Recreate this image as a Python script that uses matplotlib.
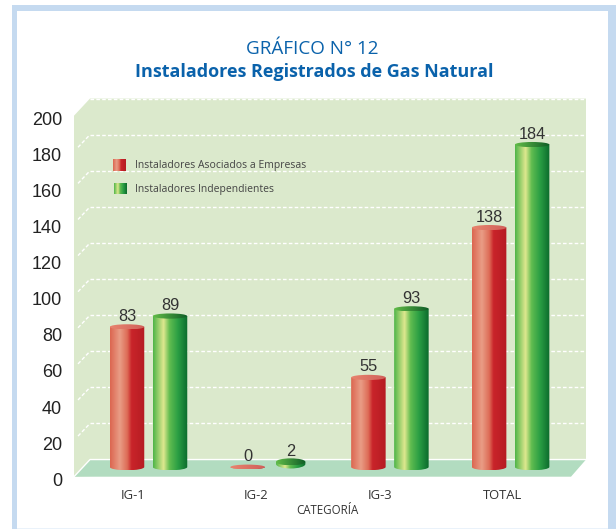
import numpy as np
import matplotlib
matplotlib.use("Agg")
import matplotlib.pyplot as plt
from matplotlib.colors import LinearSegmentedColormap
from matplotlib.patches import Rectangle, Polygon, PathPatch, Ellipse
from matplotlib.path import Path
from matplotlib.transforms import ScaledTranslation

categories = ["IG-1", "IG-2", "IG-3", "TOTAL"]
asociados = [83, 0, 55, 138]
independientes = [89, 2, 93, 184]
y_ticks = [0, 20, 40, 60, 80, 100, 120, 140, 160, 180, 200]

W, H = 616, 529
plt.rcParams["font.family"] = ["Open Sans", "DejaVu Sans"]

# layout in pixels of the picture
AX_L, AX_R, AX_T, AX_B = 74, 571, 115.7, 476.7
GROUP0, GROUP_STEP = 148.5, 120.7
BAR_W, BAR_OFF = 34.5, 21.5
DEPTH_X = 16

red = LinearSegmentedColormap.from_list("r", [(0, "#dc6650"), (.28, "#e99d86"), (.5, "#dd6a55"),
                                              (.62, "#c9242a"), (1, "#b51c22")])
green = LinearSegmentedColormap.from_list("g", [(0, "#4fb548"), (.3, "#dfe88f"), (.47, "#62bd50"),
                                                (.72, "#2a9e44"), (1, "#0b6a2c")])
red_top = LinearSegmentedColormap.from_list("rt", ["#e8846e", "#d0605a"])
green_top = LinearSegmentedColormap.from_list("gt", ["#62bc48", "#0e5c26"])
ramp = np.linspace(0, 1, 128).reshape(1, -1)

fig = plt.figure(figsize=(W / 100, H / 100), dpi=100, facecolor="white")

def fig_rect(x0, y0, x1, y1, color):
    fig.patches.append(Rectangle((x0 / W, 1 - y1 / H), (x1 - x0) / W, (y1 - y0) / H, color=color,
                                 lw=0, transform=fig.transFigure, zorder=-1))

fig_rect(12, 5, W, H, "#c5daf0")
fig_rect(17, 11, 608, 528, "white")
fig_rect(17, 528, 608, H, "#eaf2fa")

ax = fig.add_axes([AX_L / W, 1 - AX_B / H, (AX_R - AX_L) / W, (AX_B - AX_T) / H], facecolor="none")
ax.set_xlim((AX_L - GROUP0) / GROUP_STEP, (AX_R - GROUP0) / GROUP_STEP)
ax.set_ylim(0, 200)
PX_V = (AX_B - AX_T) / 200

def dx(px):
    return px / GROUP_STEP

def dv(px):
    return px / PX_V

def to_x(px):
    return (px - GROUP0) / GROUP_STEP

def to_v(py):
    return (AX_B - py) / PX_V

# wall and floor
back_off = 9.5
x_left, x_right = ax.get_xlim()
x_back0 = x_left + dx(DEPTH_X)
x_back1 = x_right + dx(DEPTH_X - 1)
ax.add_patch(Polygon([(x_left, 200), (x_back0, 200 + back_off), (x_back1, 200 + back_off),
                      (x_back1, back_off), (x_left, 0)],
                     color="#dbe9cc", lw=0, clip_on=False, zorder=1))
ax.add_patch(Polygon([(x_left, 0), (x_back0, back_off), (x_back1, back_off), (x_right, 0)],
                     color="#b2dcc0", lw=0, clip_on=False, zorder=1.2))
ax.plot([x_left, x_back0, x_back1], [0, back_off, back_off], color="white",
        lw=1, clip_on=False, zorder=1.3)

for t in y_ticks[1:]:
    ax.plot([x_back0, x_back1], [t + back_off, t + back_off], color="white", lw=1,
            ls=(0, (2.6, 1.6)), clip_on=False, zorder=1.4)
    if t < 200:
        ax.plot([x_left + dx(4), x_back0], [t + 2.5, t + back_off], color="white", lw=1,
                ls=(0, (2.6, 1.6)), clip_on=False, zorder=1.4)

def gradient(x0, x1, v0, v1, cmap, clip, z):
    im = ax.imshow(ramp, extent=(x0, x1, v0, v1), cmap=cmap, aspect="auto", zorder=z, interpolation="bilinear")
    im.set_clip_path(clip)

def cylinder(center, value, cmap, cmap_top, z):
    base = to_v(467)
    top = value
    w = BAR_W
    rb, rt = dv(3.3), dv(2.6)
    # the very small values are only a flat disc on the floor
    if value < base:
        if value > 0:
            base = base + dv(3)
            top = base + value * 0.6
            w = BAR_W * 0.85
            rb, rt = dv(4.5), dv(3.5)
        else:
            top = base
            rb = rt = dv(2.4)
    x0, x1 = center - dx(w / 2), center + dx(w / 2)
    k = 0.5523
    xm = (x0 + x1) / 2
    hw = (x1 - x0) / 2
    verts = [(x0, top), (x0, base),
             (x0, base - rb * k), (xm - hw * k, base - rb), (xm, base - rb),
             (xm + hw * k, base - rb), (x1, base - rb * k), (x1, base),
             (x1, top), (x0, top)]
    codes = [Path.MOVETO, Path.LINETO, Path.CURVE4, Path.CURVE4, Path.CURVE4,
             Path.CURVE4, Path.CURVE4, Path.CURVE4, Path.LINETO, Path.CLOSEPOLY]
    body = PathPatch(Path(verts, codes), fc="none", ec="none", transform=ax.transData)
    ax.add_patch(body)
    gradient(x0, x1, base - rb, top + rt, cmap, body, z)
    cap = Ellipse((xm, top), x1 - x0, 2 * rt, fc="none", ec="none", transform=ax.transData)
    ax.add_patch(cap)
    gradient(x0, x1, top - rt, top + rt, cmap_top, cap, z + 0.1)
    return top

for i, (a, b) in enumerate(zip(asociados, independientes)):
    x_a = i - dx(BAR_OFF)
    x_b = i + dx(BAR_OFF)
    top_a = cylinder(x_a, a, red, red_top, 3)
    top_b = cylinder(x_b, b, green, green_top, 3)
    ax.text(x_a, top_a + dv(3), str(a), ha="center", va="bottom", family="Liberation Sans", fontsize=11.8,
            color="#333333", zorder=5)
    ax.text(x_b, top_b + dv(3), str(b), ha="center", va="bottom", family="Liberation Sans", fontsize=11.8,
            color="#333333", zorder=5)

# legend
legend_labels = ["Instaladores Asociados a Empresas", "Instaladores Independientes"]
legend_y = [165, 188.5]
for lab, ly, cm, lx in zip(legend_labels, legend_y, [red, green], [113, 114]):
    swatch = Rectangle((to_x(lx), to_v(ly + 6)), dx(13), dv(12), fc="none", ec="none")
    ax.add_patch(swatch)
    gradient(to_x(lx), to_x(lx + 13), to_v(ly + 6), to_v(ly - 6), cm, swatch, 6)
    ax.text(to_x(135), to_v(ly + 0.7), lab, ha="left", va="center", fontsize=7.5, color="#444444", zorder=6)

ax.set_xlim((AX_L - GROUP0) / GROUP_STEP, (AX_R - GROUP0) / GROUP_STEP)
ax.set_ylim(0, 200)
ax.set_yticks(y_ticks)
ax.set_yticklabels([str(t) for t in y_ticks], family="Liberation Sans", fontsize=13, color="#222222")
label_pos = [to_x(133 + 123.3 * i) for i in range(len(categories))]
ax.set_xticks(label_pos)
ax.set_xticklabels(categories, fontsize=9.4, color="#333333")
ax.tick_params(axis="y", length=0, pad=8.5)
ax.tick_params(axis="x", length=0, pad=9)
for s in ax.spines.values():
    s.set_visible(False)
# y labels sit a little under their grid level
shift = ScaledTranslation(0, -2.5 / 100, fig.dpi_scale_trans)
for lab in ax.get_yticklabels():
    lab.set_transform(lab.get_transform() + shift)

fig.text(312 / W, 1 - 48.5 / H, "GRÁFICO N° 12", ha="center", va="center", fontsize=13.6, color="#0a62ab")
fig.text(314.5 / W, 1 - 71.5 / H, "Instaladores Registrados de Gas Natural", ha="center", va="center",
         fontsize=13, fontweight="bold", color="#0a62ab")
fig.text(327 / W, 1 - 510.5 / H, "CATEGORÍA", ha="center", va="center", fontsize=8.3, color="#333333")

fig.savefig("out.png", dpi=100)
